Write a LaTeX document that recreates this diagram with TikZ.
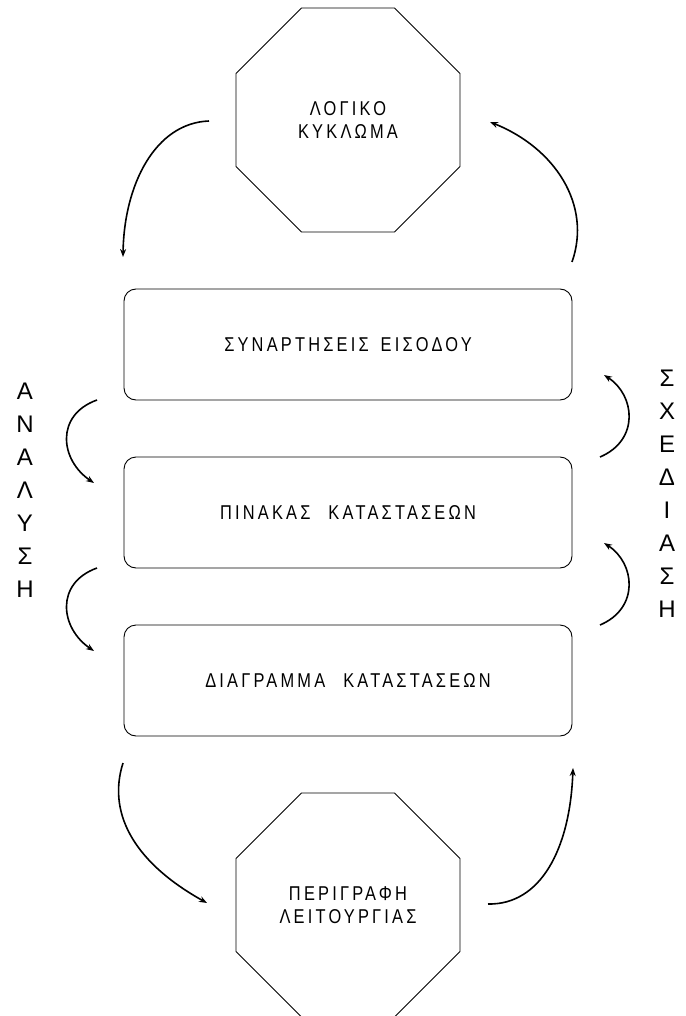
\documentclass[tikz,border=0pt]{standalone}
\usepackage{fontspec}
\setmainfont{Liberation Sans}
\newfontfamily\lbl[FakeStretch=0.82,LetterSpace=16]{Liberation Sans}
\usetikzlibrary{shapes.geometric,arrows.meta}
\begin{document}
\begin{tikzpicture}[x=1pt,y=-1pt,
  octo/.style={draw, regular polygon, regular polygon sides=8, minimum size=242.5pt,
    inner sep=0pt, line width=0.9pt, align=center,
    font=\lbl\fontsize{20}{23}\selectfont},
  stage/.style={draw, rounded corners=12pt, minimum width=448pt, minimum height=111pt,
    inner sep=0pt, line width=0.9pt, font=\lbl\fontsize{20}{22}\selectfont},
  flow/.style={line width=1.6pt, -{Stealth[length=8pt,width=6pt]}},
  side/.style={font=\fontsize{24}{33}\selectfont, align=center, inner sep=0pt}]
\useasboundingbox (0,0) rectangle (685,1016);

\node[octo] (top) at (348,120) {ΛΟΓΙΚΟ\\ΚΥΚΛΩΜΑ};
\node[stage] (b1) at (348,344.5) {ΣΥΝΑΡΤΗΣΕΙΣ\hspace{12pt}ΕΙΣΟΔΟΥ};
\node[stage] (b2) at (348,512.5) {ΠΙΝΑΚΑΣ\hspace{18pt}ΚΑΤΑΣΤΑΣΕΩΝ};
\node[stage] (b3) at (348,680.5) {ΔΙΑΓΡΑΜΜΑ\hspace{18pt}ΚΑΤΑΣΤΑΣΕΩΝ};
\node[octo] (bot) at (348,905) {ΠΕΡΙΓΡΑΦΗ\\ΛΕΙΤΟΥΡΓΙΑΣ};

\node[side] (ana) at (25,490) {Α\\Ν\\Α\\Λ\\Υ\\Σ\\Η};
\node[side] (sxe) at (667,494) {Σ\\Χ\\Ε\\Δ\\Ι\\Α\\Σ\\Η};

% free ends of the connectors
\coordinate (t1) at (209,121);   \coordinate (t2) at (123,257);
\coordinate (r1) at (572,262);   \coordinate (r2) at (490,122);
\coordinate (la1) at (97,400);   \coordinate (la2) at (94,483);
\coordinate (lb1) at (97,568);   \coordinate (lb2) at (94,651);
\coordinate (ra1) at (600,457);  \coordinate (ra2) at (604,375);
\coordinate (rb1) at (600,625);  \coordinate (rb2) at (604,543);
\coordinate (d1) at (123,763);   \coordinate (d2) at (207,903);
\coordinate (u1) at (488,904);   \coordinate (u2) at (573,768);

\draw[flow] (t1) .. controls (155,123) and (124,185) .. (t2);
\draw[flow] (r1) .. controls (592,205) and (555,148) .. (r2);
\draw[flow] (la1) .. controls (55,415) and (60,460) .. (la2);
\draw[flow] (lb1) .. controls (55,583) and (60,628) .. (lb2);
\draw[flow] (ra1) .. controls (640,440) and (635,395) .. (ra2);
\draw[flow] (rb1) .. controls (640,608) and (635,563) .. (rb2);
\draw[flow] (d1) .. controls (108,810) and (130,860) .. (d2);
\draw[flow] (u1) .. controls (540,905) and (570,850) .. (u2);
\end{tikzpicture}
\end{document}
